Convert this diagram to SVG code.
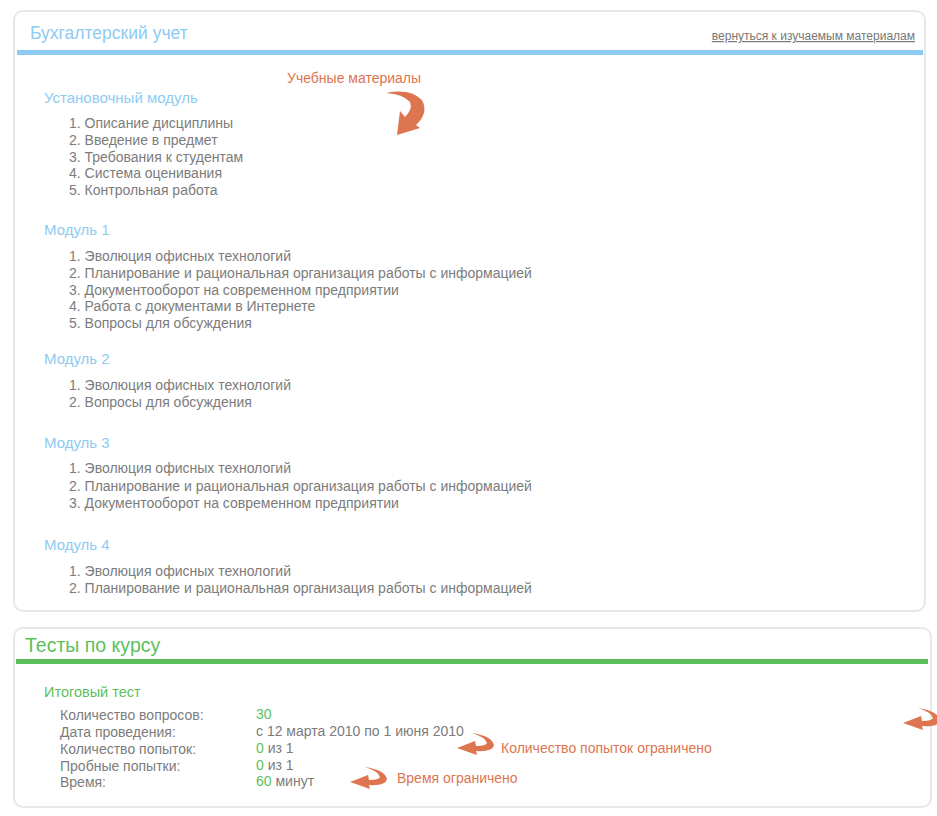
<svg xmlns="http://www.w3.org/2000/svg" width="937" height="816" viewBox="0 0 937 816">
<style>
text{font-family:"Liberation Sans",Arial,sans-serif}
.panel{fill:#fff;stroke:#e8e8e8;stroke-width:2}
.title{font-size:17.5px;fill:#8ecbf2}
.mod{font-size:15px;fill:#8ecbf2}
.item{font-size:14px;fill:#7c7c7c}
.g{fill:#5cbf5c}
.note{font-size:14px;fill:#dd7550}
.arrow{fill:#dd7550}
.link{font-size:12px;fill:#777;text-decoration:underline}
</style>
<defs>
<path id="hook" d="M472,733 Q492,736 494,745 Q493,752 476,751 L477,755 L457,748 L475,741 L476,746 Q486,746 487,743 Q485,737 472,733 Z"/>
</defs>
<rect width="937" height="816" fill="#fff"/>
<g id="panel-materials">
<rect class="panel" x="14" y="11" width="911" height="600" rx="9"/>
<rect x="17" y="50" width="906" height="5" fill="#8ccaf2"/>
<text class="title" x="30" y="39">Бухгалтерский учет</text>
<text class="link" x="915" y="40" text-anchor="end">вернуться к изучаемым материалам</text>
</g>
<g id="module-intro">
<text class="mod" x="44" y="103">Установочный модуль</text>
<text class="item" x="69" y="128">1. Описание дисциплины</text>
<text class="item" x="69" y="145">2. Введение в предмет</text>
<text class="item" x="69" y="162">3. Требования к студентам</text>
<text class="item" x="69" y="178">4. Система оценивания</text>
<text class="item" x="69" y="195">5. Контрольная работа</text>
</g>
<g id="module-1">
<text class="mod" x="44" y="235">Модуль 1</text>
<text class="item" x="69" y="261">1. Эволюция офисных технологий</text>
<text class="item" x="69" y="278">2. Планирование и рациональная организация работы с информацией</text>
<text class="item" x="69" y="295">3. Документооборот на современном предприятии</text>
<text class="item" x="69" y="311">4. Работа с документами в Интернете</text>
<text class="item" x="69" y="328">5. Вопросы для обсуждения</text>
</g>
<g id="module-2">
<text class="mod" x="44" y="364">Модуль 2</text>
<text class="item" x="69" y="390">1. Эволюция офисных технологий</text>
<text class="item" x="69" y="407">2. Вопросы для обсуждения</text>
</g>
<g id="module-3">
<text class="mod" x="44" y="448">Модуль 3</text>
<text class="item" x="69" y="473">1. Эволюция офисных технологий</text>
<text class="item" x="69" y="491">2. Планирование и рациональная организация работы с информацией</text>
<text class="item" x="69" y="508">3. Документооборот на современном предприятии</text>
</g>
<g id="module-4">
<text class="mod" x="44" y="550">Модуль 4</text>
<text class="item" x="69" y="576">1. Эволюция офисных технологий</text>
<text class="item" x="69" y="593">2. Планирование и рациональная организация работы с информацией</text>
</g>
<g id="note-materials">
<text class="note" x="287" y="83">Учебные материалы</text>
</g>
<g id="panel-tests">
<rect class="panel" x="14" y="628" width="917" height="179" rx="9"/>
<rect x="16" y="659" width="912" height="5" fill="#5cbf5c"/>
<text x="25" y="652" font-size="19.5" class="g">Тесты по курсу</text>
</g>
<g id="final-test">
<text x="44" y="697" font-size="14.5" class="g">Итоговый тест</text>
<text class="item" x="60" y="720">Количество вопросов:</text>
<text class="item" x="60" y="737">Дата проведения:</text>
<text class="item" x="60" y="754">Количество попыток:</text>
<text class="item" x="60" y="771">Пробные попытки:</text>
<text class="item" x="60" y="787">Время:</text>
<text class="item" x="256" y="719"><tspan class="g">30</tspan></text>
<text class="item" x="256" y="736">с 12 марта 2010 по 1 июня 2010</text>
<text class="item" x="256" y="753"><tspan class="g">0</tspan> из 1</text>
<text class="item" x="256" y="770"><tspan class="g">0</tspan> из 1</text>
<text class="item" x="256" y="786"><tspan class="g">60</tspan> минут</text>
</g>
<g id="note-attempts">
<text class="note" x="501" y="753">Количество попыток ограничено</text>
</g>
<g id="note-time">
<text class="note" x="397" y="783">Время ограничено</text>
</g>
<g id="connectors">
<path class="arrow" d="M386,93 Q410,88 422,100 Q429,113 416,125 L420,128 L397,135 L400,111 L405,117 Q413,109 410,102 Q403,94 386,93 Z"/>
<use href="#hook" class="arrow"/>
<use href="#hook" class="arrow" transform="translate(-107,34)"/>
<use href="#hook" class="arrow" transform="translate(446,-25)"/>
</g>
</svg>
